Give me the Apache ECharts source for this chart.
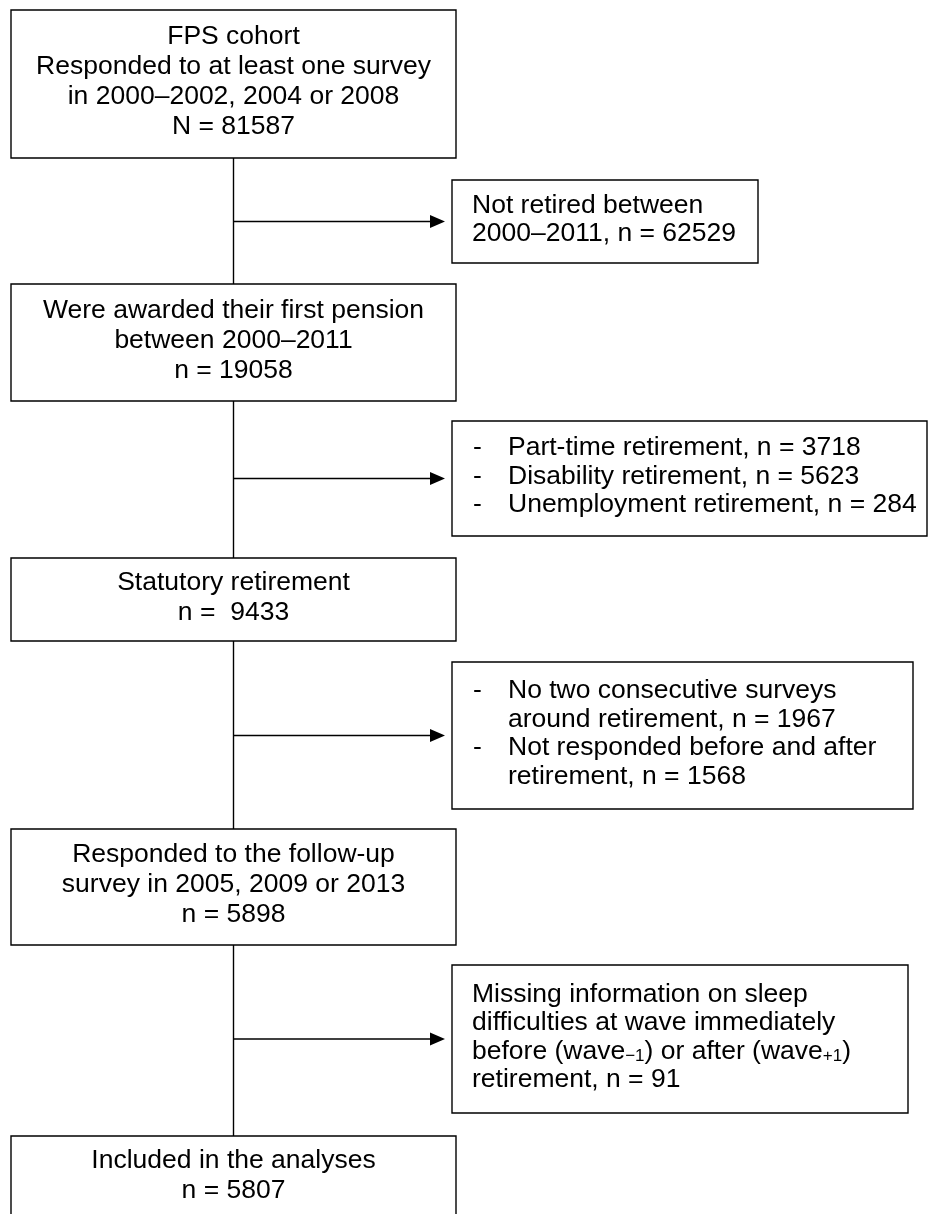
<!DOCTYPE html>
<html>
<head>
<meta charset="utf-8">
<script src="https://cdn.jsdelivr.net/npm/echarts@6/dist/echarts.min.js"></script>
<style>
html, body { margin: 0; padding: 0; background: #fff; }
#chart { width: 928px; height: 1214px; }
</style>
</head>
<body>
<div id="chart"></div>
<script>
// main flow: box titles and counts
const stepTitles = [
  ['FPS cohort', 'Responded to at least one survey', 'in 2000–2002, 2004 or 2008'],
  ['Were awarded their first pension', 'between 2000–2011'],
  ['Statutory retirement'],
  ['Responded to the follow-up', 'survey in 2005, 2009 or 2013'],
  ['Included in the analyses']
]
const stepCountLabels = ['N = ', 'n = ', 'n =  ', 'n = ', 'n = ']
const stepCounts = [81587, 19058, 9433, 5898, 5807]

// exclusions: one entry per side box, one sub-list per item ({n} = count)
const exclusionLines = [
  [['Not retired between', '2000–2011, n = {n}']],
  [['Part-time retirement, n = {n}'], ['Disability retirement, n = {n}'], ['Unemployment retirement, n = {n}']],
  [['No two consecutive surveys', 'around retirement, n = {n}'], ['Not responded before and after', 'retirement, n = {n}']],
  [['Missing information on sleep', 'difficulties at wave immediately', 'before (wave{sub|−1}) or after (wave{sub|+1})', 'retirement, n = {n}']]
]
const exclusionCounts = [[62529], [3718, 5623, 284], [1967, 1568], [91]]
const exclusionBulleted = [false, true, true, false]

// layout (page units, y downwards)
const stepBoxes = [[11, 10, 456, 158], [11, 284, 456, 401], [11, 558, 456, 641], [11, 829, 456, 945], [11, 1136, 456, 1220]]
const exclusionBoxes = [[452, 180, 758, 263], [452, 421, 927, 536], [452, 662, 913, 809], [452, 965, 908, 1113]]
const trunkX = 233.5
const arrowTip = 445
const mainGap = 30
const sideGap = 28.5
const textShift = -2
const FONT = '"Liberation Sans", Arial, sans-serif'
const FONT_SIZE = 26.5
const INK = '#000'

const rectOf = (api, b) => {
  const p0 = api.coord([b[0], b[1]])
  const p1 = api.coord([b[2], b[3]])
  return { x: p0[0], y: p0[1], width: p1[0] - p0[0], height: p1[1] - p0[1] }
}

const textEl = (x, y, text, align) => ({
  type: 'text',
  x, y,
  style: {
    text,
    fill: INK,
    fontSize: FONT_SIZE,
    fontFamily: FONT,
    lineHeight: 28,
    align,
    verticalAlign: 'middle',
    rich: {
      sub: { fontSize: 17, fontFamily: FONT, lineHeight: 17, verticalAlign: 'bottom', fill: INK }
    }
  }
})

const renderStep = (params, api) => {
  const i = params.dataIndex
  const r = rectOf(api, stepBoxes[i])
  const lines = stepTitles[i].concat(stepCountLabels[i] + stepCounts[i])
  const cx = r.x + r.width / 2
  const cy = r.y + r.height / 2 + textShift
  const children = [{
    type: 'rect', shape: r,
    style: { fill: '#fff', stroke: INK, lineWidth: 1.4 }
  }]
  if (i > 0) {
    const a = api.coord([trunkX, stepBoxes[i - 1][3]])
    const b = api.coord([trunkX, stepBoxes[i][1]])
    children.push({
      type: 'line', shape: { x1: a[0], y1: a[1], x2: b[0], y2: b[1] },
      style: { stroke: INK, lineWidth: 1.4 }
    })
  }
  lines.forEach((t, k) => {
    children.push(textEl(cx, cy + (k - (lines.length - 1) / 2) * mainGap, t, 'center'))
  })
  return { type: 'group', children }
}

const renderExclusion = (params, api) => {
  const i = params.dataIndex
  const box = exclusionBoxes[i]
  const r = rectOf(api, box)
  const cy = r.y + r.height / 2
  const rows = []
  exclusionLines[i].forEach((item, j) => {
    item.forEach((t, k) => rows.push({ text: t.replace('{n}', exclusionCounts[i][j]), first: k === 0 }))
  })

  const from = api.coord([trunkX, (box[1] + box[3]) / 2])
  const tip = api.coord([arrowTip, (box[1] + box[3]) / 2])
  const children = [
    { type: 'rect', shape: r, style: { fill: '#fff', stroke: INK, lineWidth: 1.4 } },
    { type: 'line', shape: { x1: from[0], y1: from[1], x2: tip[0] - 12, y2: tip[1] }, style: { stroke: INK, lineWidth: 1.4 } },
    { type: 'polygon', shape: { points: [[tip[0] - 15, tip[1] - 6.5], [tip[0], tip[1]], [tip[0] - 15, tip[1] + 6.5]] }, style: { fill: INK } }
  ]
  rows.forEach((row, k) => {
    const y = cy + textShift + (k - (rows.length - 1) / 2) * sideGap
    if (exclusionBulleted[i]) {
      if (row.first) children.push(textEl(r.x + 21, y, '-', 'left'))
      children.push(textEl(r.x + 56, y, row.text, 'left'))
    } else {
      children.push(textEl(r.x + 20, y, row.text, 'left'))
    }
  })
  return { type: 'group', children }
}

const chart = echarts.init(document.getElementById('chart'))
chart.setOption({
  animation: false,
  grid: { left: 0, right: 0, top: 0, bottom: 0 },
  xAxis: { type: 'value', min: 0, max: 928, show: false },
  yAxis: { type: 'value', min: 0, max: 1214, inverse: true, show: false },
  series: [
    {
      type: 'custom',
      name: 'steps',
      renderItem: renderStep,
      data: stepCounts.map((n, i) => [i, n]),
      encode: { x: 0, y: 0 },
      silent: true
    },
    {
      type: 'custom',
      name: 'exclusions',
      renderItem: renderExclusion,
      data: exclusionCounts.map((c, i) => [i, c.length]),
      encode: { x: 0, y: 0 },
      silent: true
    }
  ]
})
</script>
</body>
</html>
